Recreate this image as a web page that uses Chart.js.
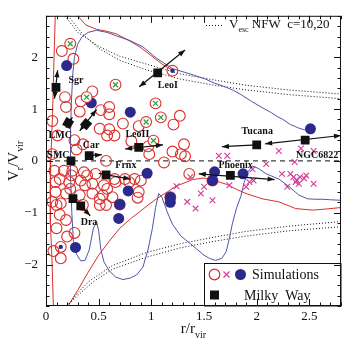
<!DOCTYPE html>
<html>
<head>
<meta charset="utf-8">
<script src="https://cdn.jsdelivr.net/npm/chart.js@4.4.1/dist/chart.umd.min.js"></script>
<style>
  html, body { margin: 0; background: #fff; }
  canvas { display: block; }
</style>
</head>
<body>
<canvas id="c" width="355" height="348"></canvas>
<script>
// Radial velocity vs. distance of satellites: simulated subhaloes vs. Milky Way dwarfs.

const X_TICKS = [0, 0.5, 1, 1.5, 2, 2.5];
const Y_TICKS = [-2, -1, 0, 1, 2];

// Escape velocity curves (NFW, c = 10 and 20), upper and lower branches.
const VESC_A_UP = [[0.18, 2.8], [0.3, 2.48], [0.51, 2.2], [0.7, 2.02], [0.95, 1.87], [1.27, 1.68], [1.6, 1.56], [1.9, 1.46], [2.3, 1.37], [2.8, 1.29]];
const VESC_B_UP = [[0.21, 2.8], [0.35, 2.44], [0.51, 2.16], [0.7, 1.94], [0.95, 1.76], [1.27, 1.58], [1.6, 1.46], [1.9, 1.37], [2.3, 1.28], [2.8, 1.2]];
const VESC_A_LO = [[0.2, -2.8], [0.3, -2.55], [0.41, -2.32], [0.63, -2.02], [0.95, -1.77], [1.27, -1.6], [1.6, -1.47], [1.9, -1.36], [2.3, -1.26], [2.8, -1.17]];
const VESC_B_LO = [[0.2, -2.8], [0.3, -2.6], [0.45, -2.33], [0.63, -2.09], [0.95, -1.86], [1.27, -1.68], [1.6, -1.55], [1.9, -1.45], [2.3, -1.35], [2.8, -1.27]];

// Envelopes of the simulated subhaloes.
const RED_LEFT = [[0.088, 2.8], [0.075, 1.9], [0.062, 0.9], [0.045, 0], [0.038, -0.6], [0.045, -1.2], [0.055, -1.8], [0.07, -2.8]];
const RED_UPPER = [[0.3, 2.8], [0.38, 2.62], [0.48, 2.54], [0.58, 2.5], [0.67, 2.45], [0.78, 2.33], [0.89, 2.2], [1.0, 2.03], [1.1, 1.87], [1.2, 1.75]];
const RED_LOWER = [[0.21, -2.8], [0.3, -2.5], [0.4, -2.15], [0.5, -1.82], [0.6, -1.55], [0.7, -1.3], [0.8, -1.12], [0.89, -0.98], [0.97, -0.85], [1.05, -0.73], [1.15, -0.6], [1.24, -0.48],
  [1.32, -0.42], [1.39, -0.36], [1.5, -0.33], [1.6, -0.38], [1.71, -0.45], [1.82, -0.56], [1.9, -0.63], [2.05, -0.73], [2.21, -0.79], [2.37, -0.92], [2.53, -0.95], [2.65, -0.93], [2.8, -0.9]];
const BLUE_TRACK = [[2.8, -0.76], [2.7, -0.75], [2.62, -0.74], [2.55, -0.74], [2.48, -0.73], [2.4, -0.66], [2.31, -0.5], [2.21, -0.35], [2.09, -0.25], [2.02, -0.15], [1.96, -0.1],
  [1.92, -0.2], [1.88, -0.42], [1.85, -0.68], [1.81, -0.9], [1.77, -1.2], [1.74, -1.5], [1.71, -1.75], [1.67, -1.88], [1.61, -1.92], [1.55, -1.88], [1.5, -1.82], [1.43, -1.7],
  [1.36, -1.58], [1.28, -1.45], [1.2, -1.22], [1.15, -0.98], [1.1, -0.7], [1.07, -0.63], [1.04, -0.9], [1.01, -1.3], [0.97, -1.7], [0.92, -2.05], [0.86, -2.2], [0.8, -2.26],
  [0.73, -2.29], [0.66, -2.24], [0.6, -2.12], [0.55, -1.95], [0.52, -1.7], [0.5, -1.35], [0.48, -1.17], [0.45, -1.3], [0.41, -1.72], [0.37, -1.92], [0.33, -1.93], [0.29, -1.8],
  [0.26, -1.55], [0.245, -1.0], [0.235, -0.4], [0.23, 0], [0.235, 0.5], [0.24, 1.1], [0.255, 1.7], [0.27, 2.0], [0.3, 2.25], [0.34, 2.39], [0.4, 2.48], [0.48, 2.52],
  [0.58, 2.48], [0.67, 2.41], [0.8, 2.32], [0.92, 2.2], [1.05, 1.98], [1.2, 1.78], [1.3, 1.72], [1.41, 1.65], [1.5, 1.59], [1.6, 1.5], [1.7, 1.43], [1.78, 1.36], [1.85, 1.28],
  [1.95, 1.15], [2.05, 1.03], [2.14, 0.93], [2.2, 0.85], [2.25, 0.8], [2.32, 0.7], [2.36, 0.67], [2.39, 0.64], [2.45, 0.6], [2.51, 0.62]];

// Simulated subhaloes.
const SIM_OPEN = [[0.15, 2.12], [0.26, 1.97], [0.44, 1.34], [0.18, 1.23], [0.33, 1.15], [0.6, 1.04], [0.52, 0.98], [0.19, 1.04], [0.32, 0.95], [0.6, 0.9],
  [0.73, 0.72], [0.51, 0.62], [0.6, 0.61], [0.65, 0.49], [0.58, 0.49], [0.27, 0.4], [0.29, 0.22], [0.81, 0.38], [0.97, 0.28], [1.2, 0.18], [1.21, 0.7], [0.11, 0.49],
  [1.27, 0.87], [0.06, 0.77], [0.88, 0.67], [0.35, 0.32], [0.06, 0.13], [0.57, 0.0], [0.08, -0.19], [0.17, -0.19], [0.25, -0.19], [0.36, -0.22], [0.47, -0.25],
  [0.13, -0.35], [0.22, -0.41], [0.33, -0.38], [0.44, -0.44], [0.55, -0.47], [0.66, -0.41], [0.79, -0.41], [0.9, -0.38], [0.09, -0.6], [0.19, -0.63], [0.32, -0.66],
  [0.44, -0.63], [0.51, -0.73], [0.63, -0.7], [0.88, -0.6], [0.06, -0.79], [0.14, -0.82], [0.35, -0.85], [0.57, -0.85], [0.87, -0.71], [1.31, 0.32], [1.28, 0.13],
  [1.12, -0.03], [1.36, -0.25], [0.98, 0.13], [1.32, 0.09], [0.09, -0.41], [0.24, -0.28], [0.1, -0.85], [0.13, -1.04], [0.19, -1.14], [0.1, -1.3], [0.27, -1.39],
  [0.2, -1.46], [0.07, -1.74], [0.14, -1.88], [0.39, -0.28], [0.37, -0.47], [0.51, -0.85], [0.54, -0.66], [0.58, -0.54], [0.65, -0.35], [0.75, -0.35], [0.84, -0.35],
  [0.23, -0.54], [1.2, 1.74], [0.14, -1.66], [0.7, -0.84], [1.58, -0.38], [1.18, -0.7]];
const SIM_CROSSED = [[0.23, 2.26], [0.66, 1.47], [0.386, 1.23], [1.04, 1.11], [0.95, 0.75], [1.09, 0.84], [1.02, 0.39]];
const SIM_FILLED = [[0.196, 1.84], [0.43, 1.12], [0.8, 0.94], [2.51, 0.62], [0.96, -0.24], [0.78, -0.58], [0.7, -0.84], [0.69, -1.11], [0.28, -1.67],
  [1.18, -0.7], [1.18, -0.8], [1.6, -0.21], [1.87, -0.25], [1.58, -0.38]];
const SIM_DOTTED = [[1.2, 1.74], [0.14, -1.66]];
const SIM_FAR = [[1.64, 0.1], [1.72, 0.1], [1.24, -0.49], [1.47, -0.63], [1.34, -0.79], [1.42, -0.92], [1.58, -0.76], [1.37, -0.31], [1.5, -0.5], [1.74, -0.47],
  [1.9, -0.5], [1.93, -0.41], [2.21, 0.19], [2.42, 0.24], [2.54, 0.19], [2.36, -0.02], [2.09, -0.06], [1.96, -0.16], [1.97, -0.38], [2.24, -0.25], [2.32, -0.25],
  [2.35, -0.31], [2.38, -0.37], [2.41, -0.31], [2.37, -0.41], [2.4, -0.44], [2.45, -0.34], [2.47, -0.28], [2.54, -0.44], [2.29, -0.5]];

// Milky Way dwarfs.
const MW_NAMES = ["Sgr", "LMC", "", "SMC", "Car", "LeoII", "Frnx", "Dra", "", "LeoI", "Phoenix", "Tucana", "NGC6822"];
const MW_X = [0.095, 0.21, 0.38, 0.237, 0.41, 0.88, 0.57, 0.256, 0.33, 1.06, 1.75, 2.0, 2.46];
const MW_Y = [1.42, 0.73, 0.71, 0.0, 0.1, 0.26, -0.27, -0.73, -0.87, 1.70, -0.28, 0.31, 0.40];
const MW_TILT = [0, 30, 40, 0, 0, 0, 0, 0, 0, 0, 0, 0, 0];

// Proper-motion arrows: x1, y1, x2, y2, heads at both ends?
const ARROWS = [
  [0.08, 1.2, 0.11, 1.75, true],
  [0.19, 0.64, 0.25, 0.84, false],
  [0.32, 0.58, 0.48, 0.99, true],
  [0.885, 1.43, 1.32, 2.14, true],
  [0.75, 0.23, 1.11, 0.31, true],
  [0.41, 0.1, 0.53, 0.12, false],
  [0.5, -0.24, 0.8, -0.35, false],
  [0.33, -0.87, 0.42, -1.06, false],
  [1.45, -0.25, 2.17, -0.36, true],
  [2.0, 0.31, 1.67, 0.275, false],
  [2.08, 0.33, 2.8, 0.49, true]
];

// Name tags (text, x, y in data units).
const TAGS = [["Sgr", 0.284, 1.55], ["LeoI", 1.156, 1.46], ["LMC", 0.135, 0.49], ["Car", 0.427, 0.3], ["SMC", 0.118, 0.1],
  ["LeoII", 0.867, 0.505], ["Frnx", 0.758, -0.086], ["Dra", 0.408, -1.19], ["Phoenix", 1.8, -0.086], ["Tucana", 2.005, 0.562], ["NGC6822", 2.573, 0.105]];

const RED = "#d8302c", NAVY = "#2b2a8c", LBLUE = "#4d57a6", MAG = "#d43a98", GREEN = "#2f9e48";
const SERIF = "'Liberation Serif', 'DejaVu Serif', serif";

const pts = a => a.map(([x, y]) => ({ x, y }));
const curve = (data, color, extra) => Object.assign({ data: pts(data), showLine: true, borderColor: color, borderWidth: 1,
  pointRadius: 0, fill: false, tension: 0, order: 10 }, extra || {});

function arrowHead(ctx, x1, y1, x2, y2) {
  const a = Math.atan2(y2 - y1, x2 - x1), L = 7, W = 2.6;
  const c = Math.cos(a), s = Math.sin(a);
  ctx.beginPath();
  ctx.moveTo(x2, y2);
  ctx.lineTo(x2 - L * c + W * s, y2 - L * s - W * c);
  ctx.lineTo(x2 - L * c - W * s, y2 - L * s + W * c);
  ctx.closePath();
  ctx.fill();
}

// Text with subscripts: parts = [[text, isSub], ...]
function subText(ctx, parts, x, y, big, small) {
  let cx = x;
  for (const [t, sub] of parts) {
    ctx.font = (sub ? small : big) + "px " + SERIF;
    ctx.fillText(t, cx, sub ? y + big * 0.3 : y);
    cx += ctx.measureText(t).width;
  }
  return cx;
}
function subWidth(ctx, parts, big, small) {
  let w = 0;
  for (const [t, sub] of parts) { ctx.font = (sub ? small : big) + "px " + SERIF; w += ctx.measureText(t).width; }
  return w;
}

const decorations = {
  id: "decorations",
  afterDatasetsDraw(chart) {
    const { ctx, chartArea: a, scales: { x, y } } = chart;
    ctx.save();
    ctx.beginPath(); ctx.rect(a.left, a.top, a.width, a.height); ctx.clip();
    // proper motion arrows
    ctx.strokeStyle = "#111"; ctx.fillStyle = "#111"; ctx.lineWidth = 1.2;
    for (const [x1, y1, x2, y2, both] of ARROWS) {
      const p1 = [x.getPixelForValue(x1), y.getPixelForValue(y1)], p2 = [x.getPixelForValue(x2), y.getPixelForValue(y2)];
      ctx.beginPath(); ctx.moveTo(p1[0], p1[1]); ctx.lineTo(p2[0], p2[1]); ctx.stroke();
      arrowHead(ctx, p1[0], p1[1], p2[0], p2[1]);
      if (both) arrowHead(ctx, p2[0], p2[1], p1[0], p1[1]);
    }
    // names
    ctx.font = "bold 10px " + SERIF;
    ctx.textAlign = "center"; ctx.textBaseline = "middle";
    for (const [t, tx, ty] of TAGS) ctx.fillText(t, x.getPixelForValue(tx), y.getPixelForValue(ty));
    ctx.restore();
  },
  afterDraw(chart) {
    const { ctx, chartArea: a, scales: { x, y } } = chart;
    ctx.save();
    // legend box, lower right
    const bx = 204.5, by = 263.5;
    ctx.fillStyle = "#fff"; ctx.fillRect(bx, by, a.right - bx, a.bottom - by);
    ctx.strokeStyle = "#111"; ctx.lineWidth = 1; ctx.strokeRect(bx, by, a.right - bx, a.bottom - by);
    ctx.lineWidth = 1.2;
    ctx.strokeStyle = RED; ctx.beginPath(); ctx.arc(214.5, 274.5, 5.3, 0, Math.PI * 2); ctx.stroke();
    ctx.strokeStyle = MAG; ctx.beginPath();
    ctx.moveTo(223.5, 271.5); ctx.lineTo(229.5, 277.5); ctx.moveTo(229.5, 271.5); ctx.lineTo(223.5, 277.5); ctx.stroke();
    ctx.fillStyle = NAVY; ctx.beginPath(); ctx.arc(240.5, 274.5, 5.5, 0, Math.PI * 2); ctx.fill();
    ctx.fillStyle = "#111"; ctx.fillRect(210, 290.5, 9, 9);
    ctx.font = "14px " + SERIF; ctx.textBaseline = "middle"; ctx.textAlign = "left";
    ctx.fillText("Simulations", 252, 275);
    ctx.fillText("Milky  Way", 244, 296);

    // escape-velocity key, top right
    ctx.strokeStyle = "#111"; ctx.lineWidth = 1; ctx.setLineDash([1, 2]);
    ctx.beginPath(); ctx.moveTo(206, 25.5); ctx.lineTo(224, 25.5); ctx.stroke();
    ctx.setLineDash([]);
    ctx.textBaseline = "alphabetic";
    let cx = subText(ctx, [["V", false], ["esc", true]], 229, 28, 13, 8);
    ctx.font = "13px " + SERIF;
    ctx.fillText(" NFW  c=10,20", cx, 28);

    // frame and inward ticks on all four sides
    ctx.strokeStyle = "#111"; ctx.lineWidth = 1;
    ctx.strokeRect(a.left + 0.5, a.top + 0.5, a.width - 1, a.height - 1);
    ctx.beginPath();
    for (let i = 0; i <= 28; i++) {
      const px = Math.round(x.getPixelForValue(i / 10)) + 0.5, len = i % 5 === 0 ? 7 : 3.5;
      ctx.moveTo(px, a.bottom); ctx.lineTo(px, a.bottom - len);
      ctx.moveTo(px, a.top); ctx.lineTo(px, a.top + len);
    }
    for (let i = -14; i <= 14; i++) {
      const py = Math.round(y.getPixelForValue(i / 5)) + 0.5, len = i % 5 === 0 ? 7 : 3.5;
      ctx.moveTo(a.left, py); ctx.lineTo(a.left + len, py);
      ctx.moveTo(a.right, py); ctx.lineTo(a.right - len, py);
    }
    ctx.stroke();

    // axis titles
    ctx.fillStyle = "#111"; ctx.textAlign = "left"; ctx.textBaseline = "alphabetic";
    const yt = [["V", false], ["r", true], ["/V", false], ["vir", true]];
    ctx.save();
    ctx.translate(18, (a.top + a.bottom) / 2);
    ctx.rotate(-Math.PI / 2);
    subText(ctx, yt, -subWidth(ctx, yt, 15, 10) / 2, 0, 15, 10);
    ctx.restore();
    const xt = [["r/r", false], ["vir", true]];
    subText(ctx, xt, (a.left + a.right) / 2 - subWidth(ctx, xt, 15, 10) / 2, 333, 15, 10);
    ctx.restore();
  }
};

new Chart(document.getElementById("c"), {
  type: "scatter",
  data: {
    datasets: [
      curve([[0, 0], [2.8, 0]], "#111", { borderDash: [5, 4] }),
      curve(VESC_A_UP, "#111", { borderDash: [1, 2] }),
      curve(VESC_B_UP, "#111", { borderDash: [1, 2] }),
      curve(VESC_A_LO, "#111", { borderDash: [1, 2] }),
      curve(VESC_B_LO, "#111", { borderDash: [1, 2] }),
      curve(RED_LEFT, RED),
      curve(RED_UPPER, RED),
      curve(RED_LOWER, RED),
      curve(BLUE_TRACK, LBLUE, { order: 9 }),
      { data: pts(SIM_OPEN), pointStyle: "circle", pointRadius: 5.4, borderColor: RED, borderWidth: 1.1, backgroundColor: "rgba(0,0,0,0)", order: 6 },
      { data: pts(SIM_CROSSED), pointStyle: "circle", pointRadius: 5.4, borderColor: RED, borderWidth: 1.1, backgroundColor: "#fff", order: 5 },
      { data: pts(SIM_CROSSED), pointStyle: "crossRot", pointRadius: 3.5, borderColor: GREEN, borderWidth: 1.3, order: 4 },
      { data: pts(SIM_FILLED), pointStyle: "circle", pointRadius: 5.5, borderColor: NAVY, borderWidth: 0, backgroundColor: NAVY, order: 5.5 },
      { data: pts(SIM_DOTTED), pointStyle: "circle", pointRadius: 2.2, borderWidth: 0, backgroundColor: NAVY, order: 4 },
      { data: pts(SIM_FAR), pointStyle: "crossRot", pointRadius: 4, borderColor: MAG, borderWidth: 1.1, order: 4 },
      { data: MW_X.map((v, i) => ({ x: v, y: MW_Y[i] })), pointStyle: "rect", pointRadius: 6.2, rotation: MW_TILT,
        borderWidth: 0, backgroundColor: "#111", order: 1 }
    ]
  },
  options: {
    responsive: false,
    animation: false,
    devicePixelRatio: 1,
    layout: { padding: { top: 12, right: 14, left: 0, bottom: 0 } },
    plugins: { legend: { display: false }, tooltip: { enabled: false } },
    scales: {
      x: {
        type: "linear", min: 0, max: 2.8,
        grid: { display: false, drawTicks: false }, border: { display: false },
        afterBuildTicks: s => { s.ticks = X_TICKS.map(v => ({ value: v })); },
        afterFit: s => { s.height = 42; },
        ticks: { color: "#111", padding: 3, maxRotation: 0, font: { family: SERIF, size: 13 }, callback: v => String(v) }
      },
      y: {
        type: "linear", min: -2.8, max: 2.8,
        grid: { display: false, drawTicks: false }, border: { display: false },
        afterBuildTicks: s => { s.ticks = Y_TICKS.map(v => ({ value: v })); },
        afterFit: s => { s.width = 46; },
        ticks: { color: "#111", padding: 8, font: { family: SERIF, size: 13 }, callback: v => (v < 0 ? "\u2212" + (-v) : String(v)) }
      }
    }
  },
  plugins: [decorations]
});
</script>
</body>
</html>
